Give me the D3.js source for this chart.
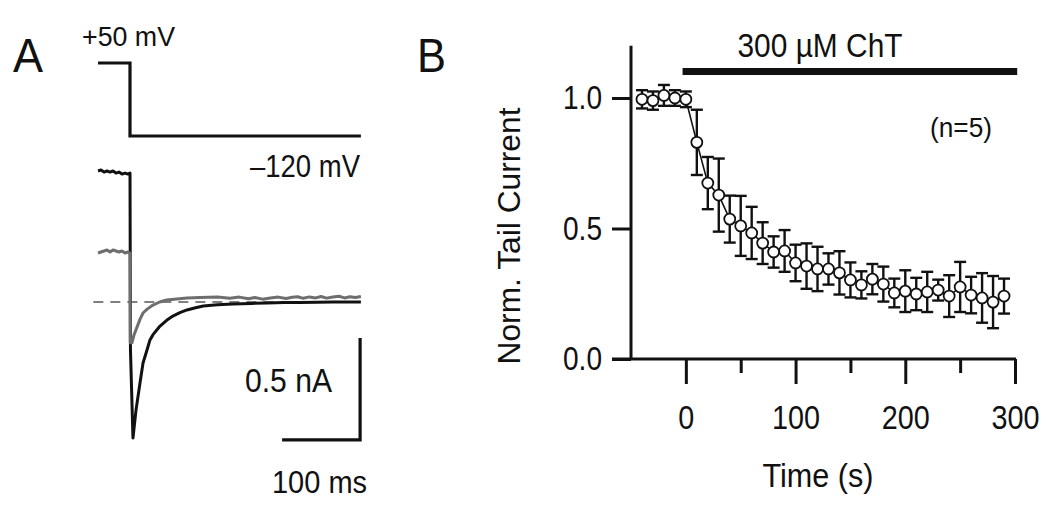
<!DOCTYPE html>
<html><head><meta charset="utf-8">
<script src="https://cdn.jsdelivr.net/npm/d3@7"></script>
<style>
body{margin:0;background:#fff}
text{font-family:"Liberation Sans",Arial,Helvetica,sans-serif;fill:#111}
</style>
</head><body>
<svg id="chart" width="1050" height="505"></svg>
<script>
// ---------- Panel B data ----------
const timeS = [-40,-30,-20,-10,0,10,20,30,40,50,60,70,80,90,100,110,120,130,140,150,160,170,180,190,200,210,220,230,240,250,260,270,280,290];
const normCurrent = [0.995,0.99,1.01,1.0,0.995,0.83,0.674,0.628,0.536,0.51,0.483,0.444,0.41,0.414,0.368,0.356,0.345,0.345,0.33,0.303,0.284,0.306,0.287,0.253,0.26,0.249,0.257,0.264,0.241,0.276,0.245,0.234,0.218,0.241];
const semCurrent = [0.035,0.035,0.04,0.03,0.03,0.125,0.1,0.14,0.09,0.115,0.1,0.08,0.06,0.08,0.07,0.087,0.085,0.06,0.083,0.067,0.052,0.058,0.067,0.055,0.08,0.062,0.077,0.04,0.08,0.096,0.07,0.095,0.1,0.067];
const xMajorTicks = [0,100,200,300];
const xMinorTicks = [50,150,250];
const yTicks = [0,0.5,1.0];
const drugPeriod = [-3,302];

// ---------- Panel A data ----------
const protocolTime = [-41,0,0,296];      // ms
const protocolVolt = [50,50,-120,-120];  // mV
const controlTime = [-41,-37.2,-33.3,-29.5,-25.6,-21.8,-17.9,-14.1,-10.3,-6.4,-2.6,0,0.6,3.8,7.7,12.8,16.7,21.8,25.6,29.5,38.5,47,55,64,73,84,94,112,132,155,176,198,218,240,260,280,296];
const controlCurr = [0.642,0.647,0.637,0.642,0.637,0.642,0.632,0.637,0.627,0.632,0.627,0.632,-0.235,-0.667,-0.53,-0.397,-0.299,-0.235,-0.186,-0.16,-0.118,-0.09,-0.069,-0.052,-0.039,-0.028,-0.02,-0.014,-0.01,-0.007,-0.005,-0.003,-0.002,-0.001,0,0,0];
const chtTime = [-41,-37.2,-33.3,-29.5,-25.6,-21.8,-17.9,-14.1,-10.3,-6.4,-2.6,0,0.3,2.5,5.1,9,12.8,16.7,22,29.5,38,47,60,73,90,112,128,140,152,160,170,180,190,200,208,215,222,230,238,245,252,260,268,275,282,289,296];
const chtCurr = [0.24,0.245,0.25,0.255,0.245,0.255,0.25,0.245,0.25,0.24,0.245,0.24,-0.2,-0.2,-0.162,-0.123,-0.085,-0.054,-0.035,-0.015,0.0,0.01,0.015,0.02,0.022,0.025,0.018,0.024,0.016,0.022,0.014,0.02,0.024,0.017,0.023,0.026,0.018,0.025,0.02,0.027,0.019,0.024,0.028,0.02,0.026,0.022,0.027];
const baselineTime = [-47,296];
const scaleBarTime = [195,295];        // 100 ms
const scaleBarCurr = [-0.676,-0.176];  // 0.5 nA

const svg = d3.select("#chart");
svg.append("rect").attr("width",1050).attr("height",505).attr("fill","#fff");

function label(g, str, x, y, size, anchor, len){
  const t = g.append("text").attr("x",x).attr("y",y).attr("font-size",size)
    .attr("text-anchor",anchor||"start").text(str);
  if(len){ t.attr("textLength",len).attr("lengthAdjust","spacingAndGlyphs"); }
  return t;
}

// ================= Panel A =================
const gA = svg.append("g");
const xA = d3.scaleLinear().domain([0,100]).range([130,208]);
const yV = d3.scaleLinear().domain([-120,50]).range([136,63]);
const yI = d3.scaleLinear().domain([0,0.5]).range([302,200]);

label(gA,"A",13,72,49,"start",30);
label(gA,"+50 mV",82,46,27,"start",93);
label(gA,"\u2013120 mV",360,177,31,"end",110);

const protoLine = d3.line().x((d,i)=>xA(protocolTime[i])).y((d,i)=>yV(protocolVolt[i]));
gA.append("path").attr("d",protoLine(protocolTime)).attr("fill","none")
  .attr("stroke","#111").attr("stroke-width",3.2).attr("stroke-linejoin","miter");

gA.append("line").attr("x1",xA(baselineTime[0])).attr("x2",xA(baselineTime[1]))
  .attr("y1",yI(0)).attr("y2",yI(0)).attr("stroke","#555").attr("stroke-width",1.6)
  .attr("stroke-dasharray","10,7");

const ctrlLine = d3.line().x((d,i)=>xA(controlTime[i])).y((d,i)=>yI(controlCurr[i]));
gA.append("path").attr("d",ctrlLine(controlTime)).attr("fill","none")
  .attr("stroke","#111").attr("stroke-width",3).attr("stroke-linejoin","round");
const chtLine = d3.line().x((d,i)=>xA(chtTime[i])).y((d,i)=>yI(chtCurr[i]));
gA.append("path").attr("d",chtLine(chtTime)).attr("fill","none")
  .attr("stroke","#6e6e6e").attr("stroke-width",3).attr("stroke-linejoin","round");

// scale bars
gA.append("path").attr("d",
  `M${xA(scaleBarTime[0])},${yI(scaleBarCurr[0])}H${xA(scaleBarTime[1])}V${yI(scaleBarCurr[1])}`)
  .attr("fill","none").attr("stroke","#111").attr("stroke-width",3.2);
label(gA,"0.5 nA",245,392,33,"start",87);
label(gA,"100 ms",272,493,31,"start",95);

// ================= Panel B =================
const gB = svg.append("g");
const x = d3.scaleLinear().domain([-50,300]).range([631,1015]);
const y = d3.scaleLinear().domain([0,1]).range([359,98]);

label(gB,"B",417,72,49,"start",29);

// axis lines
gB.append("line").attr("x1",x(-50)).attr("x2",x(-50)).attr("y1",y(1.2)).attr("y2",y(0))
  .attr("stroke","#111").attr("stroke-width",3);
gB.append("line").attr("x1",612).attr("x2",x(300)+1).attr("y1",y(0)).attr("y2",y(0))
  .attr("stroke","#111").attr("stroke-width",3);

const xAxis = gB.append("g").attr("transform",`translate(0,${y(0)})`)
  .call(d3.axisBottom(x).tickValues(xMajorTicks).tickSize(25).tickPadding(22).tickFormat(d3.format("d")));
xAxis.select(".domain").remove();
xAxis.selectAll("line").attr("stroke","#111").attr("stroke-width",3);
xAxis.selectAll("text").attr("font-size",33).attr("fill","#111")
  .style("font-family",'"Liberation Sans",Arial,sans-serif')
  .attr("textLength",d=>String(d).length*16).attr("lengthAdjust","spacingAndGlyphs");

const xMinor = gB.append("g").attr("transform",`translate(0,${y(0)})`)
  .call(d3.axisBottom(x).tickValues(xMinorTicks).tickSize(14).tickFormat(""));
xMinor.select(".domain").remove();
xMinor.selectAll("line").attr("stroke","#111").attr("stroke-width",3);

const yAxis = gB.append("g").attr("transform",`translate(${x(-50)},0)`)
  .call(d3.axisLeft(y).tickValues(yTicks).tickSize(19).tickPadding(10).tickFormat(d3.format(".1f")));
yAxis.select(".domain").remove();
yAxis.selectAll("line").attr("stroke","#111").attr("stroke-width",3);
yAxis.selectAll("text").attr("font-size",33).attr("fill","#111")
  .style("font-family",'"Liberation Sans",Arial,sans-serif')
  .attr("textLength",39).attr("lengthAdjust","spacingAndGlyphs");

// labels
label(gB,"Time (s)",818,487,33,"middle",111);
gB.append("text").attr("transform","translate(520,236) rotate(-90)")
  .attr("text-anchor","middle").attr("font-size",31).attr("textLength",257)
  .attr("lengthAdjust","spacingAndGlyphs").text("Norm. Tail Current");

// drug bar
gB.append("rect").attr("x",x(drugPeriod[0])).attr("width",x(drugPeriod[1])-x(drugPeriod[0]))
  .attr("y",68).attr("height",7).attr("fill","#111");
label(gB,"300 \u00b5M ChT",820,57,33,"middle",165);
label(gB,"(n=5)",961,137,27,"middle",62);

// connecting line
const dLine = d3.line().x((d,i)=>x(timeS[i])).y((d,i)=>y(normCurrent[i]));
gB.append("path").attr("d",dLine(timeS)).attr("fill","none").attr("stroke","#111").attr("stroke-width",1.6);

// error bars
const eb = gB.append("g").attr("stroke","#111").attr("stroke-width",2.4);
timeS.forEach((t,i)=>{
  const cx = x(t), top = y(normCurrent[i]+semCurrent[i]), bot = y(normCurrent[i]-semCurrent[i]);
  eb.append("line").attr("x1",cx).attr("x2",cx).attr("y1",top).attr("y2",bot);
  eb.append("line").attr("x1",cx-6).attr("x2",cx+6).attr("y1",top).attr("y2",top);
  eb.append("line").attr("x1",cx-6).attr("x2",cx+6).attr("y1",bot).attr("y2",bot);
});

gB.append("g").selectAll("circle").data(timeS).join("circle")
  .attr("cx",(d)=>x(d)).attr("cy",(d,i)=>y(normCurrent[i])).attr("r",5.5)
  .attr("fill","#fff").attr("stroke","#111").attr("stroke-width",1.8);
</script>
</body></html>
